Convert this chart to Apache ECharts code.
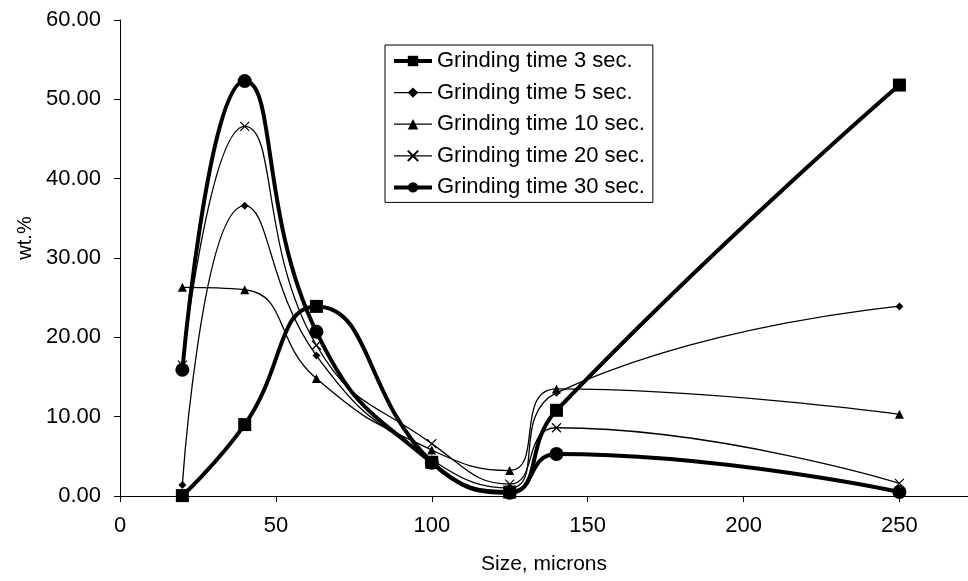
<!DOCTYPE html>
<html>
<head>
<meta charset="utf-8">
<script src="https://cdn.jsdelivr.net/npm/echarts@6/dist/echarts.min.js"></script>
<style>
html,body{margin:0;padding:0;background:#fff;}
#chart{width:968px;height:581px;}
</style>
</head>
<body>
<div id="chart"></div>
<script>
// Data
const sizes = [20, 40, 63, 100, 125, 140, 250];
const seriesNames = ['Grinding time 3 sec.', 'Grinding time 5 sec.', 'Grinding time 10 sec.', 'Grinding time 20 sec.', 'Grinding time 30 sec.'];
const t3 = [0.05, 9.0, 23.9, 4.25, 0.5, 10.8, 51.8];
const t5 = [1.4, 36.6, 17.7, 4.6, 1.0, 13.0, 23.9];
const t10 = [26.3, 26.0, 14.8, 5.8, 3.2, 13.5, 10.3];
const t20 = [16.5, 46.6, 19.0, 6.6, 1.5, 8.6, 1.6];
const t30 = [15.9, 52.3, 20.7, 4.2, 0.4, 5.3, 0.5];
const xTicks = [0, 50, 100, 150, 200, 250];
const yTicks = [0, 10, 20, 30, 40, 50, 60];

const FONT = 'Liberation Sans';
const pair = arr => sizes.map((x, i) => [x, arr[i]]);

const styles = [
  {data: t3, symbol: 'rect', size: 13, width: 4},
  {data: t5, symbol: 'diamond', size: 8, width: 1.3},
  {data: t10, symbol: 'triangle', size: 9, width: 1.3},
  {data: t20, symbol: 'path://M0,0L10,10M10,0L0,10', size: 9, width: 1.3, stroke: true},
  {data: t30, symbol: 'circle', size: 14, width: 4}
];

const chart = echarts.init(document.getElementById('chart'));
chart.setOption({
  animation: false,
  backgroundColor: '#fff',
  textStyle: {fontFamily: FONT, color: '#000'},
  grid: {left: 120, right: 0, top: 20, bottom: 85, containLabel: false},
  legend: {
    orient: 'vertical',
    left: 385, top: 45,
    padding: [5, 8, 4, 7],
    itemGap: 9.6,
    itemWidth: 38, itemHeight: 13,
    borderColor: '#000', borderWidth: 1,
    backgroundColor: '#fff',
    textStyle: {fontFamily: FONT, fontSize: 22, color: '#000', lineHeight: 22},
    data: seriesNames.map((n, i) => ({name: n, lineStyle: {width: styles[i].width, color: '#000'}}))
  },
  xAxis: {
    type: 'value', min: 0, max: 272, interval: 50,
    name: 'Size, microns', nameLocation: 'middle', nameGap: 58,
    nameTextStyle: {fontFamily: FONT, fontSize: 21, color: '#000'},
    axisLine: {lineStyle: {color: '#000', width: 1}},
    axisTick: {show: true, length: 6, lineStyle: {color: '#000'}},
    axisLabel: {fontFamily: FONT, fontSize: 22, color: '#000', margin: 19, showMaxLabel: false,
      formatter: v => (xTicks.indexOf(v) >= 0 ? String(v) : '')},
    splitLine: {show: false}
  },
  yAxis: {
    type: 'value', min: 0, max: 60, interval: 10,
    name: 'wt.%', nameLocation: 'middle', nameGap: 84,
    nameTextStyle: {fontFamily: FONT, fontSize: 20, color: '#000', padding: [0, 0, 0, 40]},
    axisLine: {show: true, lineStyle: {color: '#000', width: 1}},
    axisTick: {show: true, length: 6, lineStyle: {color: '#000'}},
    axisLabel: {fontFamily: FONT, fontSize: 22, color: '#000', margin: 19,
      formatter: v => (yTicks.indexOf(v) >= 0 ? v.toFixed(2) : '')},
    splitLine: {show: false}
  },
  series: styles.map((s, i) => ({
    name: seriesNames[i],
    type: 'line',
    data: pair(s.data),
    smooth: 0.5,
    symbol: s.symbol,
    symbolSize: s.size,
    showSymbol: true,
    lineStyle: {color: '#000', width: s.width},
    itemStyle: s.stroke ? {color: '#000', borderColor: '#000', borderWidth: 1.2} : {color: '#000', borderWidth: 0},
    z: i === 0 || i === 4 ? 3 : 2
  }))
});
</script>
</body>
</html>
